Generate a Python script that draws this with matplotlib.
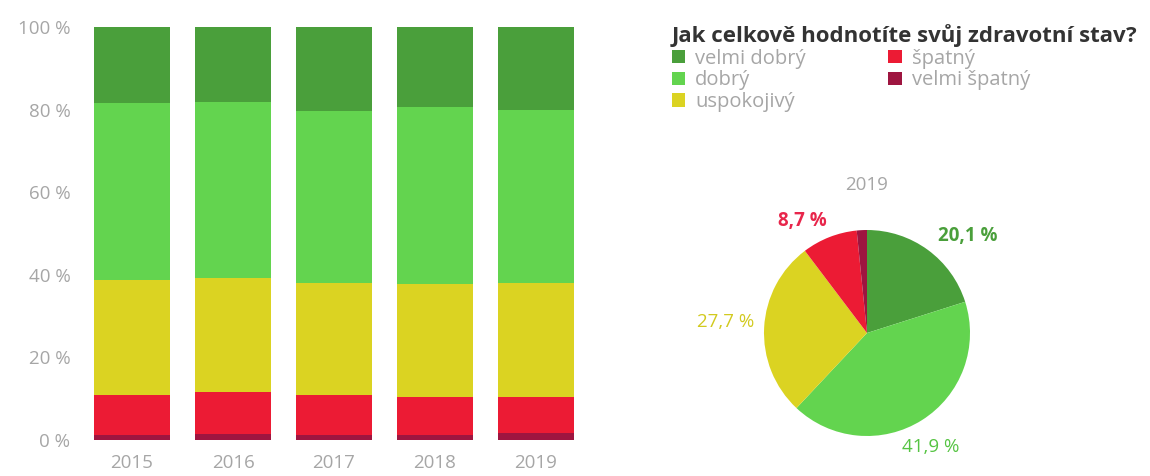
import matplotlib
matplotlib.use("Agg")
import matplotlib.pyplot as plt
import numpy as np

years = ["2015", "2016", "2017", "2018", "2019"]
categories = ["velmi dobrý", "dobrý", "uspokojivý", "špatný", "velmi špatný"]
velmi_dobry = [18.4, 18.2, 20.4, 19.4, 20.1]
dobry = [42.9, 42.6, 41.6, 42.9, 41.9]
uspokojivy = [27.8, 27.6, 27.1, 27.4, 27.7]
spatny = [9.7, 10.2, 9.6, 9.2, 8.7]
velmi_spatny = [1.2, 1.4, 1.3, 1.1, 1.6]
yticks = [0, 20, 40, 60, 80, 100]
ytick_labels = ["0 %", "20 %", "40 %", "60 %", "80 %", "100 %"]

pie_year = "2019"
pie_values = [20.1, 41.9, 27.7, 8.7, 1.6]
pie_labels = ["20,1 %", "41,9 %", "27,7 %", "8,7 %", ""]

colors = ["#4a9f3b", "#63d44f", "#dbd322", "#ec1b34", "#9e1540"]
label_colors = ["#4a9f3b", "#56c443", "#d2ca1f", "#e8264b", "#9e1540"]
gray = "#a6a6a6"

plt.rcParams['font.family'] = ['Open Sans', 'DejaVu Sans']

W, H = 1150, 476
fig = plt.figure(figsize=(W / 100, H / 100), dpi=100)

# bar axes
x0, x1 = 80, 590
ybot, ytop = 440, 27
ax = fig.add_axes([x0 / W, (H - ybot) / H, (x1 - x0) / W, (ybot - ytop) / H])
px_per_unit = 101.0
c0 = 132
ax.set_xlim((x0 - c0) / px_per_unit, (x1 - c0) / px_per_unit)
ax.set_ylim(0, 100)

series = [velmi_spatny, spatny, uspokojivy, dobry, velmi_dobry]
series_names = categories[::-1]
series_colors = colors[::-1]
xpos = np.arange(len(years))
bottom = np.zeros(len(years))
handles = {}
for vals, name, col in zip(series, series_names, series_colors):
    b = ax.bar(xpos, vals, bottom=bottom, width=0.75, color=col, label=name,
               linewidth=0, clip_on=False)
    handles[name] = b
    bottom += np.array(vals)

for s in ax.spines.values():
    s.set_visible(False)
ax.set_yticks(yticks)
ax.set_yticklabels(ytick_labels)
ax.set_xticks(xpos)
ax.set_xticklabels(years)
ax.tick_params(axis='both', length=0, colors=gray, labelsize=13.5)
ax.tick_params(axis='y', pad=7)
ax.tick_params(axis='x', pad=10)

# legend
leg = fig.legend([handles[c] for c in categories], categories,
                 loc="upper left", bbox_to_anchor=(658 / W, 1 - 10 / H),
                 ncol=2, frameon=False, fontsize=14.5,
                 title="Jak celkově hodnotíte svůj zdravotní stav?",
                 title_fontproperties={"weight": "bold", "size": 16},
                 alignment="left", handlelength=0.65, handleheight=0.65,
                 handletextpad=0.5, columnspacing=4.1, labelspacing=0.08,
                 borderpad=0.2)
leg.get_title().set_color("#333333")
for t in leg.get_texts():
    t.set_color(gray)

# pie axes
cx, cy, r = 867, 333, 103
s = 1.5 * r
pax = fig.add_axes([(cx - s) / W, (H - cy - s) / H, 2 * s / W, 2 * s / H])
wedges, _ = pax.pie(pie_values, colors=colors, startangle=90, counterclock=False,
                    radius=1.0, wedgeprops={"linewidth": 0})
pax.set_xlim(-1.5, 1.5)
pax.set_ylim(-1.5, 1.5)
pax.set_aspect("equal")

label_pos = [(44, 1.36), (-61, 1.27), (175.5, 1.38), (120, 1.26)]
weights = ["bold", "normal", "normal", "bold"]
for i, (ang, d) in enumerate(label_pos):
    a = np.deg2rad(ang)
    pax.text(d * np.cos(a), d * np.sin(a), pie_labels[i], ha="center", va="center",
             color=label_colors[i], fontsize=13.5, fontweight=weights[i])
pax.text(0, 1.44, pie_year, ha="center", va="center", color=gray, fontsize=13.5)

fig.savefig("out.png", dpi=100, facecolor="white")
